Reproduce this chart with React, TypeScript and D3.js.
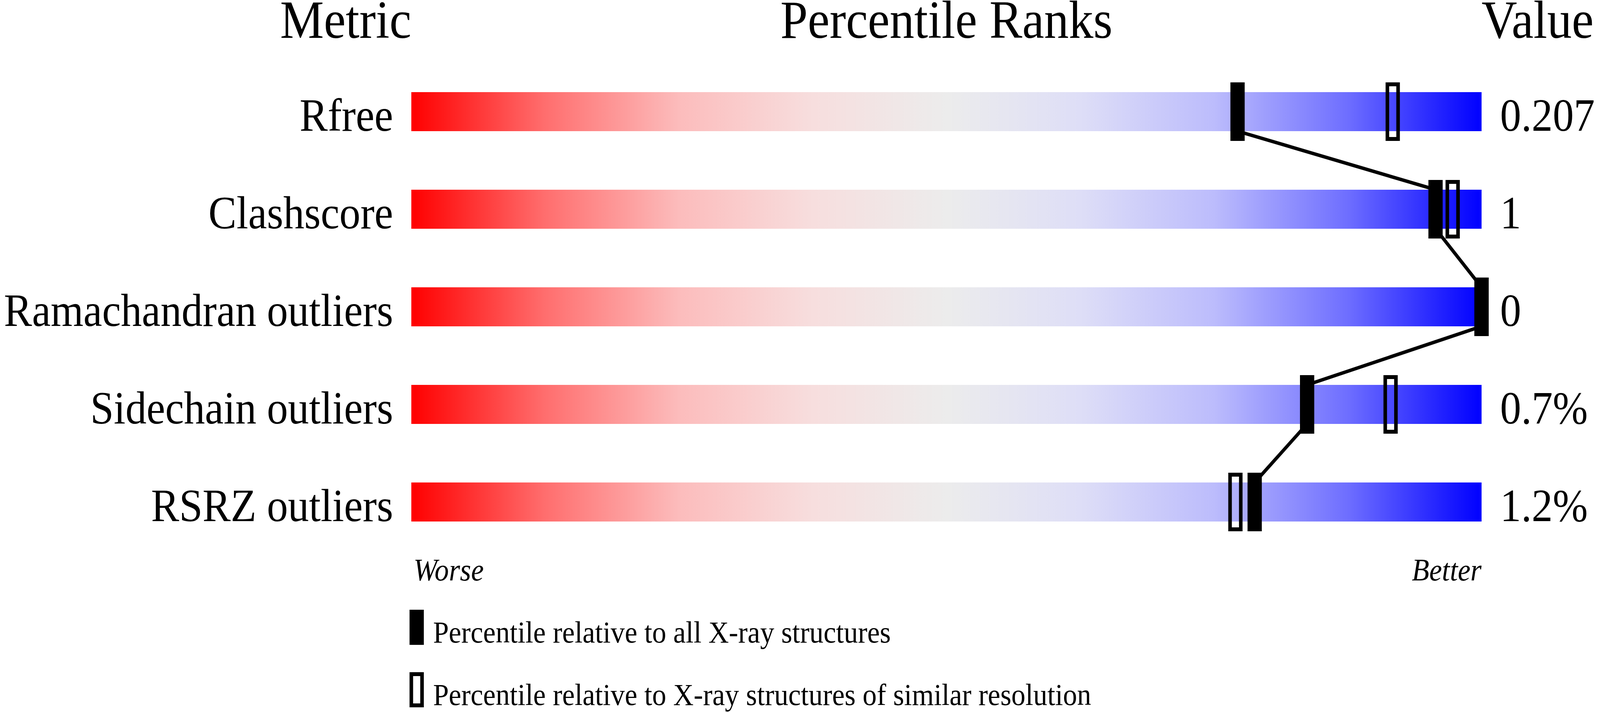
import React from 'react';
import * as d3 from 'd3';

const metrics = ['Rfree', 'Clashscore', 'Ramachandran outliers', 'Sidechain outliers', 'RSRZ outliers'];
const valueLabels = ['0.207', '1', '0', '0.7%', '1.2%'];
// percentile relative to all X-ray structures (filled markers)
const absolutePercentiles = [77.2, 95.7, 100, 83.7, 78.8];
// percentile relative to structures of similar resolution (hollow markers)
const relativePercentiles = [91.7, 97.3, 100, 91.5, 77.0];
const headers = ['Metric', 'Percentile Ranks', 'Value'];
const legendLabels = [
  'Percentile relative to all X-ray structures',
  'Percentile relative to X-ray structures of similar resolution',
];

const W = 4485;
const H = 1824;
const FONT = '"Liberation Serif", "Times New Roman", serif';

const gradientStops: [number, string][] = [
  [0, 'rgb(255,0,0)'],
  [0.125, 'rgb(255,110,110)'],
  [0.25, 'rgb(252,188,188)'],
  [0.375, 'rgb(247,222,222)'],
  [0.5, 'rgb(236,236,236)'],
  [0.625, 'rgb(222,222,247)'],
  [0.75, 'rgb(188,188,252)'],
  [0.875, 'rgb(110,110,255)'],
  [1, 'rgb(0,0,255)'],
];

export default function App() {
  const svgRef = React.useRef<SVGSVGElement>(null);

  React.useEffect(() => {
    const svg = d3.select(svgRef.current);
    svg.selectAll('*').remove();

    const x = d3.scaleLinear().domain([0, 100]).range([1153, 4153]);
    const rowTop = d3.scalePoint<string>().domain(metrics).range([236, 1236]);
    const barH = 100;
    const markW = 40;
    const markOver = 25;

    const defs = svg.append('defs');
    const grad = defs.append('linearGradient').attr('id', 'slider')
      .attr('x1', '0%').attr('x2', '100%').attr('y1', '0%').attr('y2', '0%');
    gradientStops.forEach(([o, c]) => grad.append('stop').attr('offset', o).attr('stop-color', c));

    // headers
    svg.append('text').text(headers[0])
      .attr('x', x(0)).attr('y', 97).attr('text-anchor', 'end')
      .attr('font-size', 138).attr('font-family', FONT);
    svg.append('text').text(headers[1])
      .attr('x', x(50)).attr('y', 97).attr('text-anchor', 'middle')
      .attr('font-size', 138).attr('font-family', FONT);
    svg.append('text').text(headers[2])
      .attr('x', x(100)).attr('y', 97).attr('text-anchor', 'start')
      .attr('font-size', 138).attr('font-family', FONT);

    // bars
    svg.selectAll('rect.bar').data(metrics).join('rect')
      .attr('class', 'bar')
      .attr('x', x(0)).attr('width', x(100) - x(0))
      .attr('y', d => rowTop(d)!).attr('height', barH)
      .attr('fill', 'url(#slider)');

    // row labels and values
    svg.selectAll('text.metric').data(metrics).join('text')
      .attr('class', 'metric')
      .text(d => d)
      .attr('x', x(0) - 51).attr('y', d => rowTop(d)! + barH - 1)
      .attr('text-anchor', 'end')
      .attr('font-size', 118).attr('font-family', FONT);
    svg.selectAll('text.value').data(valueLabels).join('text')
      .attr('class', 'value')
      .text(d => d)
      .attr('x', x(100) + 52).attr('y', (_, i) => rowTop(metrics[i])! + barH - 1)
      .attr('text-anchor', 'start')
      .attr('font-size', 118).attr('font-family', FONT);

    // connecting line
    const pts: [number, number][] = [];
    absolutePercentiles.forEach((p, i) => {
      const t = rowTop(metrics[i])!;
      if (i > 0) pts.push([x(p), t]);
      if (i < metrics.length - 1) pts.push([x(p), t + barH]);
    });
    svg.append('path')
      .attr('d', d3.line()(pts)!)
      .attr('fill', 'none').attr('stroke', '#000').attr('stroke-width', 9);

    // hollow markers
    svg.selectAll('rect.rel').data(relativePercentiles).join('rect')
      .attr('class', 'rel')
      .attr('x', d => x(d) - markW / 2 + 5).attr('width', markW - 10)
      .attr('y', (_, i) => rowTop(metrics[i])! - markOver + 5).attr('height', barH + 2 * markOver - 10)
      .attr('fill', 'none').attr('stroke', '#000').attr('stroke-width', 10);

    // filled markers
    svg.selectAll('rect.abs').data(absolutePercentiles).join('rect')
      .attr('class', 'abs')
      .attr('x', d => x(d) - markW / 2).attr('width', markW)
      .attr('y', (_, i) => rowTop(metrics[i])! - markOver).attr('height', barH + 2 * markOver)
      .attr('fill', '#000');

    // worse / better
    svg.append('text').text('Worse')
      .attr('x', x(0) + 6).attr('y', 1487).attr('font-style', 'italic')
      .attr('font-size', 80).attr('font-family', FONT);
    svg.append('text').text('Better')
      .attr('x', x(100)).attr('y', 1487).attr('text-anchor', 'end').attr('font-style', 'italic')
      .attr('font-size', 80).attr('font-family', FONT);

    // legend
    const legendY = [1562, 1722];
    svg.append('rect').attr('x', 1148).attr('y', legendY[0]).attr('width', 40).attr('height', 90).attr('fill', '#000');
    svg.append('rect').attr('x', 1153).attr('y', legendY[1] + 5).attr('width', 30).attr('height', 80)
      .attr('fill', 'none').attr('stroke', '#000').attr('stroke-width', 10);
    legendLabels.forEach((l, i) => {
      svg.append('text').text(l)
        .attr('x', 1214).attr('y', legendY[i] + 84)
        .attr('font-size', 79).attr('font-family', FONT);
    });
  }, []);

  return (
    <svg
      ref={svgRef}
      viewBox={`0 0 ${W} ${H}`}
      preserveAspectRatio="none"
      style={{ position: 'fixed', left: 0, top: 0, width: '100vw', height: '100vh', background: '#fff' }}
    />
  );
}
